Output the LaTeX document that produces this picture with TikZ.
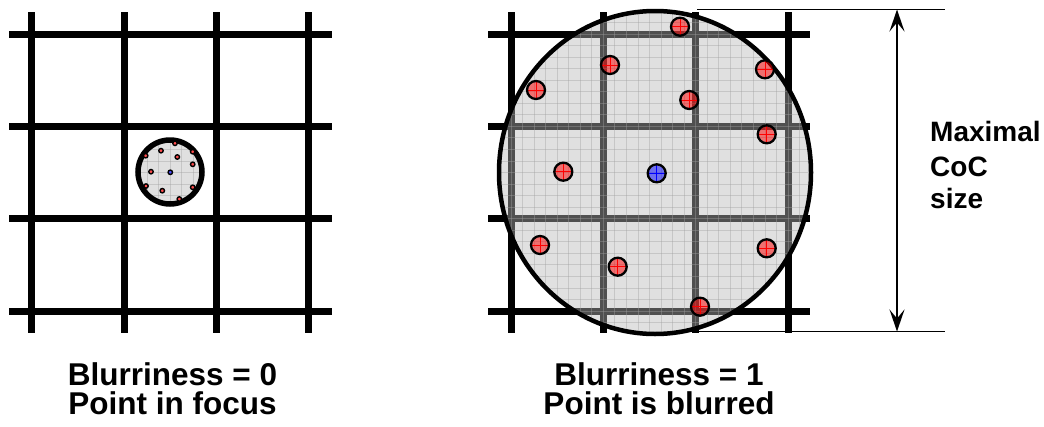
\documentclass[tikz,border=0pt]{standalone}
\usepackage{fontspec}
\setmainfont{Liberation Sans}
\usetikzlibrary{arrows.meta}
\definecolor{fillgray}{HTML}{E0E0E0}
\definecolor{linegray}{HTML}{505050}
\definecolor{finegray}{HTML}{A0A0A0}
\begin{document}
\begin{tikzpicture}[x=1pt,y=-1pt,
  gridline/.style={line width=7pt},
  blurline/.style={line width=7pt, draw=linegray},
  fineline/.style={line width=0.8pt, draw=finegray, opacity=0.4},
  dimline/.style={line width=1.8pt},
  bigdot/.style={fill=red, fill opacity=0.5},
  label/.style={inner sep=0pt, font=\fontsize{31.5}{36}\selectfont\bfseries},
  sidelabel/.style={inner sep=0pt, anchor=base west, font=\fontsize{28}{33}\selectfont\bfseries}]
\useasboundingbox (0,0) rectangle (1044,426);

% ---------- left grid ----------
\foreach \x in {31.7,124,216.3,308.7} \draw[gridline] (\x,12) -- (\x,333);
\foreach \y in {34,126.3,218.7,311} \draw[gridline] (9,\y) -- (332,\y);

% ---------- left small circle ----------
\begin{scope}
  \clip (170,172) circle (32pt);
  \fill[fillgray] (170,172) circle (32pt);
  \foreach \i in {-2,...,30} {
    \draw[fineline] ({31.7+\i*11.5417},100) -- ({31.7+\i*11.5417},250);
    \draw[fineline] (90,{34+\i*11.5417}) -- (250,{34+\i*11.5417});
  }
\end{scope}
\draw[line width=5.5pt] (170,172) circle (32pt);
\foreach \x/\y in {175/143.3,161/150.7,145.7/155.7,177.3/157,192.7/151.7,192.7/164.3,151/171.7,146/186,162.3/190.7,192.7/187.3,179.3/199} {
  \fill[red!70] (\x,\y) circle (2.2pt);
  \draw[line width=1.4pt] (\x,\y) circle (2.2pt);
}
\fill[blue!70] (170.3,172.3) circle (2.2pt);
\draw[line width=1.4pt] (170.3,172.3) circle (2.2pt);

% ---------- right grid ----------
\foreach \x in {511,603.3,695.7,788} \draw[gridline] (\x,12) -- (\x,333);
\foreach \y in {34,126.3,218.7,311} \draw[gridline] (488,\y) -- (810,\y);

% dimension lines
\coordinate (dt) at (897,9.5);
\coordinate (db) at (897,331.5);
\coordinate (dtl) at (697,9.5);
\coordinate (dtr) at (945,9.5);
\coordinate (dbl) at (697,331.5);
\coordinate (dbr) at (945,331.5);
\draw[dimline] (dtl) -- (dtr);
\draw[dimline] (dbl) -- (dbr);

% ---------- big blur ellipse ----------
\begin{scope}
  \clip (655,172.5) ellipse [x radius=156pt, y radius=161.5pt];
  \fill[fillgray] (480,0) rectangle (830,345);
  \foreach \x in {511,603.3,695.7,788} \draw[blurline] (\x,0) -- (\x,345);
  \foreach \y in {34,126.3,218.7,311} \draw[blurline] (480,\y) -- (830,\y);
  \foreach \i in {-3,...,29} {
    \draw[fineline] ({511+\i*11.5417},0) -- ({511+\i*11.5417},345);
    \draw[fineline] (480,{34+\i*11.5417}) -- (830,{34+\i*11.5417});
  }
\end{scope}
\draw[line width=4.5pt] (655,172.5) ellipse [x radius=156pt, y radius=161.5pt];

% red points
\foreach \x/\y in {680/26.7,610/65,536/90,689.3/100,765/69.3,766.7/134.3,563.3/171.7,540/245,617.7/266.7,766.7/248.3,700/306.7} {
  \fill[bigdot] (\x,\y) circle (9pt);
  \draw[red, line width=0.8pt] ({\x-8},\y) -- ({\x+8},\y) ({\x},{\y-8}) -- ({\x},{\y+8});
  \draw[line width=2.3pt] (\x,\y) circle (9pt);
}
% blue point
\fill[fill=blue, fill opacity=0.5] (656.7,173.3) circle (9pt);
\draw[blue, line width=0.8pt] (648.7,173.3) -- (664.7,173.3) (656.7,165.3) -- (656.7,181.3);
\draw[line width=2.3pt] (656.7,173.3) circle (9pt);

% dimension arrow
\draw[line width=2pt, {Stealth[length=22pt,width=15pt,inset=9pt]}-{Stealth[length=22pt,width=15pt,inset=9pt]}] (dt) -- (db);

% ---------- labels ----------
\node[sidelabel] (m1) at (930,141.7) {Maximal};
\node[sidelabel] (m2) at (930,176.7) {CoC};
\node[sidelabel] (m3) at (930,208.3) {size};

\node[label, anchor=base] (l1) at (172.5,385) {Blurriness = 0};
\node[label, anchor=base] (l2) at (172.5,414.5) {Point in focus};
\node[label, anchor=base] (r1) at (659,385) {Blurriness = 1};
\node[label, anchor=base] (r2) at (659,414.5) {Point is blurred};
\end{tikzpicture}
\end{document}
